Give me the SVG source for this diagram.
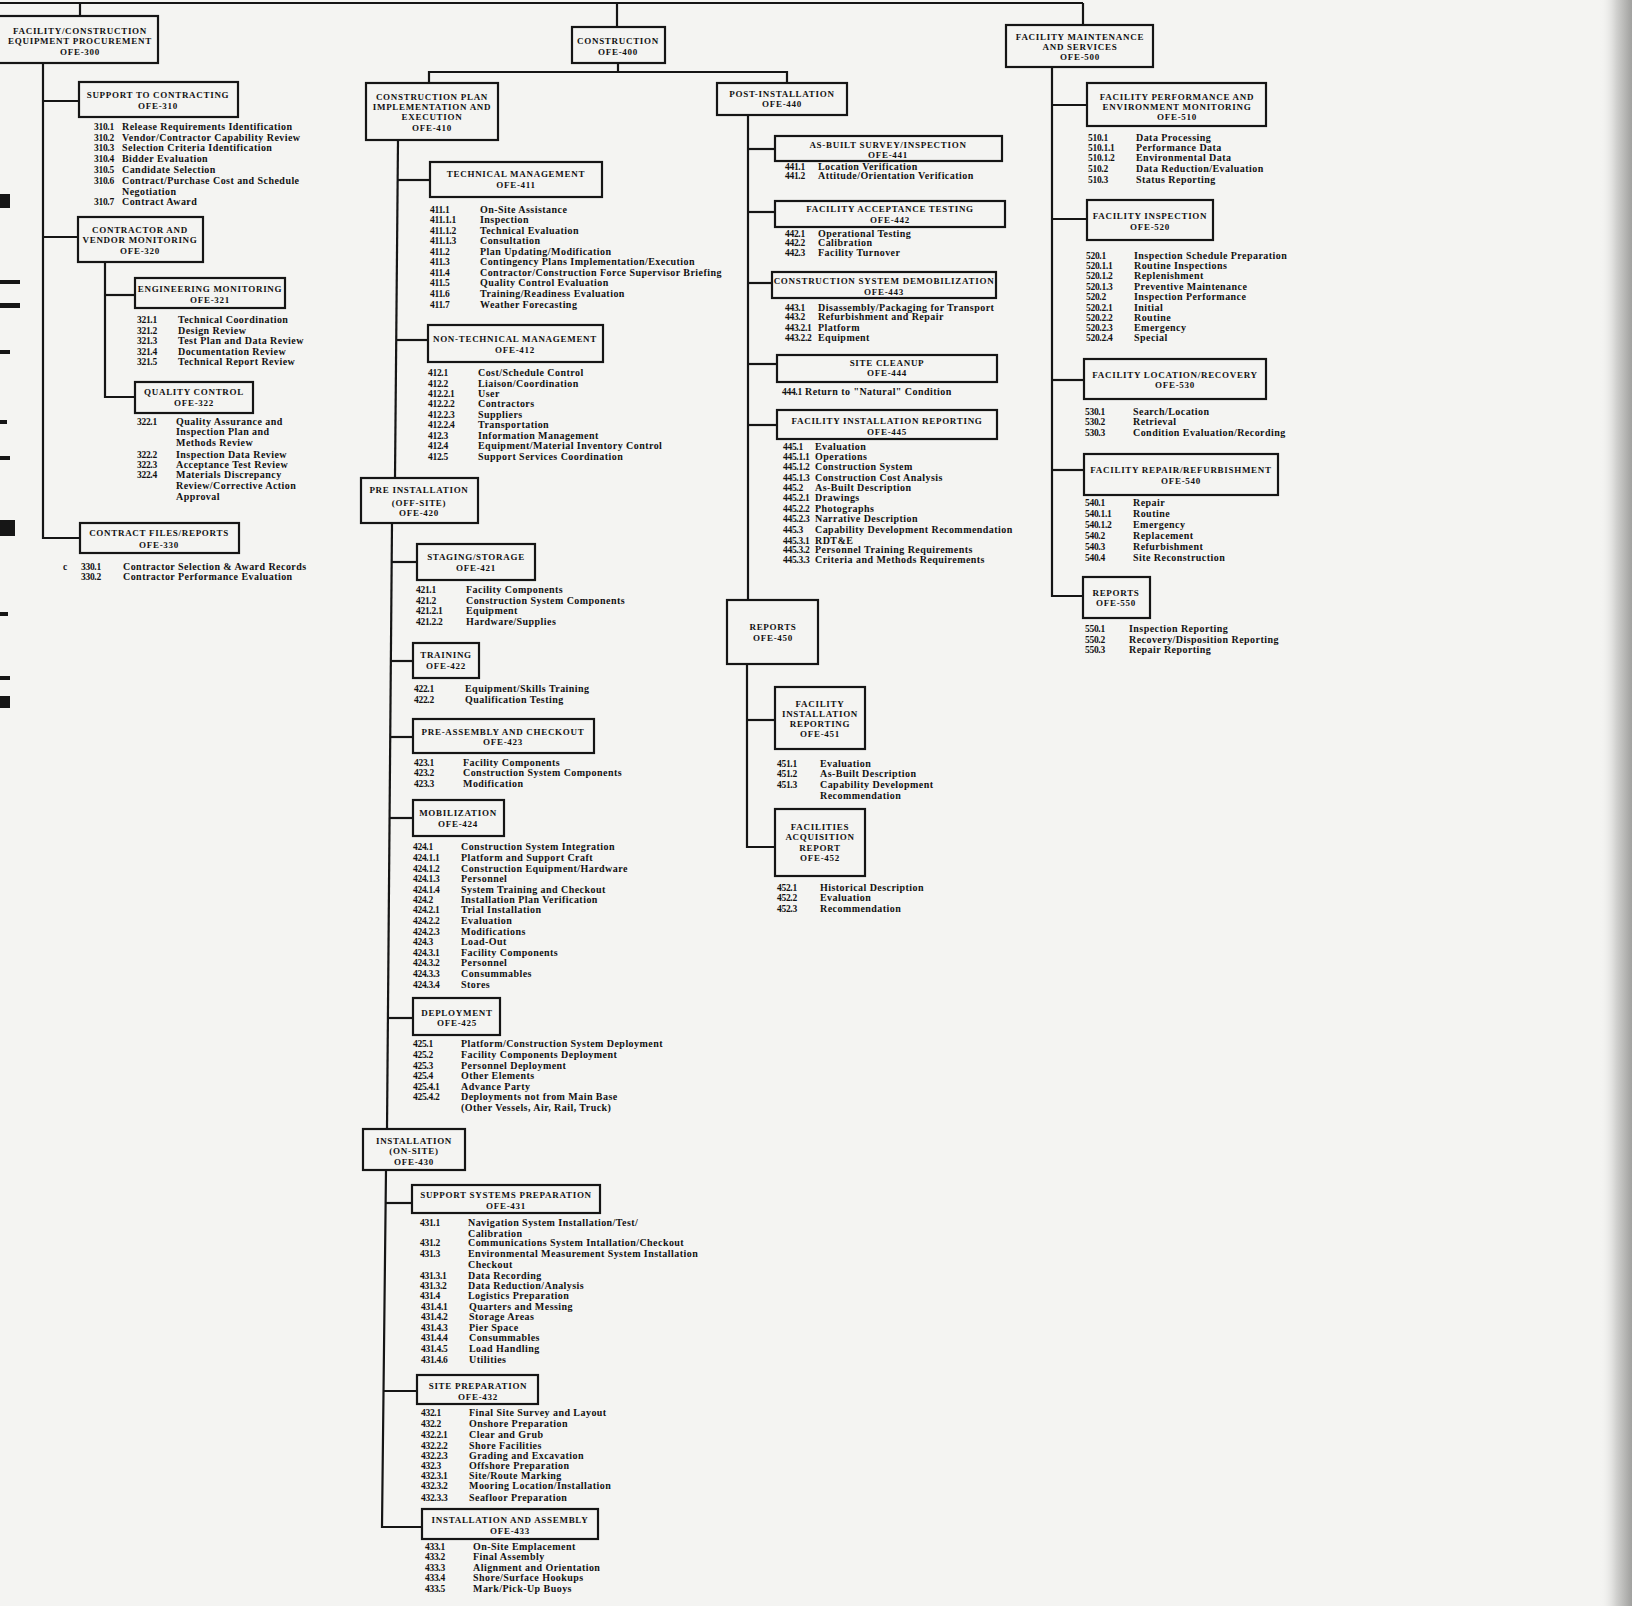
<svg xmlns="http://www.w3.org/2000/svg" width="1632" height="1606" viewBox="0 0 1632 1606">
<style>
.bx{fill:none;stroke:#151515;stroke-width:2.2}
.cn{fill:none;stroke:#151515;stroke-width:2.2}
.h{font-family:"Liberation Serif",serif;font-weight:bold;font-size:9px;letter-spacing:0.7px;text-anchor:middle;fill:#111}
.t{font-family:"Liberation Serif",serif;font-weight:bold;font-size:10px;letter-spacing:0.45px;fill:#111}
.n{font-size:9.5px;letter-spacing:-0.3px}
</style>
<defs>
<linearGradient id="edge" x1="0" x2="1" y1="0" y2="0">
<stop offset="0" stop-color="#f3f3f1" stop-opacity="0"/>
<stop offset="0.5" stop-color="#d2d2d0"/>
<stop offset="1" stop-color="#a0a09e"/>
</linearGradient>
</defs>
<rect x="0" y="0" width="1632" height="1606" fill="#f4f4f2"/>
<rect x="1600" y="0" width="32" height="1606" fill="url(#edge)"/>
<g id="edge-marks" fill="#161616">
<rect x="0" y="194" width="10" height="14"/>
<rect x="0" y="280" width="20" height="4"/>
<rect x="0" y="303" width="20" height="5"/>
<rect x="0" y="350" width="10" height="4"/>
<rect x="0" y="420" width="7" height="4"/>
<rect x="0" y="456" width="10" height="4"/>
<rect x="0" y="520" width="15" height="16"/>
<rect x="0" y="612" width="8" height="4"/>
<rect x="0" y="676" width="10" height="4"/>
<rect x="0" y="696" width="10" height="12"/>
</g>
<g id="connectors">
<path class="cn" d="M0,3 H1083"/>
<path class="cn" d="M80,3 V16"/>
<path class="cn" d="M617,3 V27"/>
<path class="cn" d="M1083,3 V25"/>
<path class="cn" d="M618,63 V72"/>
<path class="cn" d="M429,83 V72 H787 V83"/>
<path class="cn" d="M43,63 V538 H80"/>
<path class="cn" d="M43,101 H79"/>
<path class="cn" d="M43,237 H78"/>
<path class="cn" d="M105,262 V397 H135"/>
<path class="cn" d="M105,295 H135"/>
<path class="cn" d="M398,140 L395,478"/>
<path class="cn" d="M392,523 L387,1129"/>
<path class="cn" d="M386,1170 L382,1527 H422"/>
<path class="cn" d="M398,180 H430"/>
<path class="cn" d="M396,340 H428"/>
<path class="cn" d="M392,562 H417"/>
<path class="cn" d="M391,661 H413"/>
<path class="cn" d="M390,737 H413"/>
<path class="cn" d="M390,818 H413"/>
<path class="cn" d="M388,1018 H413"/>
<path class="cn" d="M386,1203 H412"/>
<path class="cn" d="M384,1391 H417"/>
<path class="cn" d="M748,115 V600"/>
<path class="cn" d="M747,664 V847 H775"/>
<path class="cn" d="M748,149 H775"/>
<path class="cn" d="M748,212 H775"/>
<path class="cn" d="M748,283 H773"/>
<path class="cn" d="M748,364 H777"/>
<path class="cn" d="M748,425 H777"/>
<path class="cn" d="M747,720 H775"/>
<path class="cn" d="M1052,67 V596 H1083"/>
<path class="cn" d="M1052,105 H1087"/>
<path class="cn" d="M1052,219 H1087"/>
<path class="cn" d="M1052,380 H1084"/>
<path class="cn" d="M1052,470 H1084"/>
</g>

<g id="ofe-300">
<rect class="bx" x="-4" y="16" width="162" height="47"/>
<text class="h" x="80" y="34">FACILITY/CONSTRUCTION</text>
<text class="h" x="80" y="44">EQUIPMENT PROCUREMENT</text>
<text class="h" x="80" y="55">OFE-300</text>
</g>
<g id="ofe-310">
<rect class="bx" x="79" y="82" width="159" height="35"/>
<text class="h" x="158" y="98">SUPPORT TO CONTRACTING</text>
<text class="h" x="158" y="109">OFE-310</text>
<g class="t">
<text class="n" x="94" y="130">310.1</text><text x="122" y="130">Release Requirements Identification</text>
<text class="n" x="94" y="141">310.2</text><text x="122" y="141">Vendor/Contractor Capability Review</text>
<text class="n" x="94" y="151">310.3</text><text x="122" y="151">Selection Criteria Identification</text>
<text class="n" x="94" y="162">310.4</text><text x="122" y="162">Bidder Evaluation</text>
<text class="n" x="94" y="173">310.5</text><text x="122" y="173">Candidate Selection</text>
<text class="n" x="94" y="184">310.6</text><text x="122" y="184">Contract/Purchase Cost and Schedule</text>
<text x="122" y="195">Negotiation</text>
<text class="n" x="94" y="205">310.7</text><text x="122" y="205">Contract Award</text>
</g>
</g>
<g id="ofe-320">
<rect class="bx" x="78" y="217" width="125" height="45"/>
<text class="h" x="140" y="233">CONTRACTOR AND</text>
<text class="h" x="140" y="243">VENDOR MONITORING</text>
<text class="h" x="140" y="254">OFE-320</text>
</g>
<g id="ofe-321">
<rect class="bx" x="135" y="278" width="150" height="30"/>
<text class="h" x="210" y="292">ENGINEERING MONITORING</text>
<text class="h" x="210" y="303">OFE-321</text>
<g class="t">
<text class="n" x="137" y="323">321.1</text><text x="178" y="323">Technical Coordination</text>
<text class="n" x="137" y="334">321.2</text><text x="178" y="334">Design Review</text>
<text class="n" x="137" y="344">321.3</text><text x="178" y="344">Test Plan and Data Review</text>
<text class="n" x="137" y="355">321.4</text><text x="178" y="355">Documentation Review</text>
<text class="n" x="137" y="365">321.5</text><text x="178" y="365">Technical Report Review</text>
</g>
</g>
<g id="ofe-322">
<rect class="bx" x="135" y="382" width="118" height="31"/>
<text class="h" x="194" y="395">QUALITY CONTROL</text>
<text class="h" x="194" y="406">OFE-322</text>
<g class="t">
<text class="n" x="137" y="425">322.1</text><text x="176" y="425">Quality Assurance and</text>
<text x="176" y="435">Inspection Plan and</text>
<text x="176" y="446">Methods Review</text>
<text class="n" x="137" y="458">322.2</text><text x="176" y="458">Inspection Data Review</text>
<text class="n" x="137" y="468">322.3</text><text x="176" y="468">Acceptance Test Review</text>
<text class="n" x="137" y="478">322.4</text><text x="176" y="478">Materials Discrepancy</text>
<text x="176" y="489">Review/Corrective Action</text>
<text x="176" y="500">Approval</text>
</g>
</g>
<g id="ofe-330">
<rect class="bx" x="80" y="523" width="159" height="30"/>
<text class="h" x="159" y="536">CONTRACT FILES/REPORTS</text>
<text class="h" x="159" y="548">OFE-330</text>
<g class="t">
<text class="n" x="63" y="570">c</text>
<text class="n" x="81" y="570">330.1</text><text x="123" y="570">Contractor Selection &amp; Award Records</text>
<text class="n" x="81" y="580">330.2</text><text x="123" y="580">Contractor Performance Evaluation</text>
</g>
</g>

<g id="ofe-400">
<rect class="bx" x="572" y="27" width="93" height="36"/>
<text class="h" x="618" y="44">CONSTRUCTION</text>
<text class="h" x="618" y="55">OFE-400</text>
</g>
<g id="ofe-410">
<rect class="bx" x="366" y="83" width="132" height="57"/>
<text class="h" x="432" y="100">CONSTRUCTION PLAN</text>
<text class="h" x="432" y="110">IMPLEMENTATION AND</text>
<text class="h" x="432" y="120">EXECUTION</text>
<text class="h" x="432" y="131">OFE-410</text>
</g>
<g id="ofe-411">
<rect class="bx" x="430" y="162" width="172" height="35"/>
<text class="h" x="516" y="177">TECHNICAL MANAGEMENT</text>
<text class="h" x="516" y="188">OFE-411</text>
<g class="t">
<text class="n" x="430" y="213">411.1</text><text x="480" y="213">On-Site Assistance</text>
<text class="n" x="430" y="223">411.1.1</text><text x="480" y="223">Inspection</text>
<text class="n" x="430" y="234">411.1.2</text><text x="480" y="234">Technical Evaluation</text>
<text class="n" x="430" y="244">411.1.3</text><text x="480" y="244">Consultation</text>
<text class="n" x="430" y="255">411.2</text><text x="480" y="255">Plan Updating/Modification</text>
<text class="n" x="430" y="265">411.3</text><text x="480" y="265">Contingency Plans Implementation/Execution</text>
<text class="n" x="430" y="276">411.4</text><text x="480" y="276">Contractor/Construction Force Supervisor Briefing</text>
<text class="n" x="430" y="286">411.5</text><text x="480" y="286">Quality Control Evaluation</text>
<text class="n" x="430" y="297">411.6</text><text x="480" y="297">Training/Readiness Evaluation</text>
<text class="n" x="430" y="308">411.7</text><text x="480" y="308">Weather Forecasting</text>
</g>
</g>
<g id="ofe-412">
<rect class="bx" x="428" y="325" width="175" height="37"/>
<text class="h" x="515" y="342">NON-TECHNICAL MANAGEMENT</text>
<text class="h" x="515" y="353">OFE-412</text>
<g class="t">
<text class="n" x="428" y="376">412.1</text><text x="478" y="376">Cost/Schedule Control</text>
<text class="n" x="428" y="387">412.2</text><text x="478" y="387">Liaison/Coordination</text>
<text class="n" x="428" y="397">412.2.1</text><text x="478" y="397">User</text>
<text class="n" x="428" y="407">412.2.2</text><text x="478" y="407">Contractors</text>
<text class="n" x="428" y="418">412.2.3</text><text x="478" y="418">Suppliers</text>
<text class="n" x="428" y="428">412.2.4</text><text x="478" y="428">Transportation</text>
<text class="n" x="428" y="439">412.3</text><text x="478" y="439">Information Management</text>
<text class="n" x="428" y="449">412.4</text><text x="478" y="449">Equipment/Material Inventory Control</text>
<text class="n" x="428" y="460">412.5</text><text x="478" y="460">Support Services Coordination</text>
</g>
</g>
<g id="ofe-420">
<rect class="bx" x="361" y="478" width="117" height="45"/>
<text class="h" x="419" y="493">PRE INSTALLATION</text>
<text class="h" x="419" y="506">(OFF-SITE)</text>
<text class="h" x="419" y="516">OFE-420</text>
</g>
<g id="ofe-421">
<rect class="bx" x="417" y="544" width="118" height="36"/>
<text class="h" x="476" y="560">STAGING/STORAGE</text>
<text class="h" x="476" y="571">OFE-421</text>
<g class="t">
<text class="n" x="416" y="593">421.1</text><text x="466" y="593">Facility Components</text>
<text class="n" x="416" y="604">421.2</text><text x="466" y="604">Construction System Components</text>
<text class="n" x="416" y="614">421.2.1</text><text x="466" y="614">Equipment</text>
<text class="n" x="416" y="625">421.2.2</text><text x="466" y="625">Hardware/Supplies</text>
</g>
</g>
<g id="ofe-422">
<rect class="bx" x="413" y="643" width="66" height="35"/>
<text class="h" x="446" y="658">TRAINING</text>
<text class="h" x="446" y="669">OFE-422</text>
<g class="t">
<text class="n" x="414" y="692">422.1</text><text x="465" y="692">Equipment/Skills Training</text>
<text class="n" x="414" y="703">422.2</text><text x="465" y="703">Qualification Testing</text>
</g>
</g>
<g id="ofe-423">
<rect class="bx" x="413" y="719" width="181" height="34"/>
<text class="h" x="503" y="735">PRE-ASSEMBLY AND CHECKOUT</text>
<text class="h" x="503" y="745">OFE-423</text>
<g class="t">
<text class="n" x="414" y="766">423.1</text><text x="463" y="766">Facility Components</text>
<text class="n" x="414" y="776">423.2</text><text x="463" y="776">Construction System Components</text>
<text class="n" x="414" y="787">423.3</text><text x="463" y="787">Modification</text>
</g>
</g>
<g id="ofe-424">
<rect class="bx" x="413" y="800" width="91" height="36"/>
<text class="h" x="458" y="816">MOBILIZATION</text>
<text class="h" x="458" y="827">OFE-424</text>
<g class="t">
<text class="n" x="413" y="850">424.1</text><text x="461" y="850">Construction System Integration</text>
<text class="n" x="413" y="861">424.1.1</text><text x="461" y="861">Platform and Support Craft</text>
<text class="n" x="413" y="872">424.1.2</text><text x="461" y="872">Construction Equipment/Hardware</text>
<text class="n" x="413" y="882">424.1.3</text><text x="461" y="882">Personnel</text>
<text class="n" x="413" y="893">424.1.4</text><text x="461" y="893">System Training and Checkout</text>
<text class="n" x="413" y="903">424.2</text><text x="461" y="903">Installation Plan Verification</text>
<text class="n" x="413" y="913">424.2.1</text><text x="461" y="913">Trial Installation</text>
<text class="n" x="413" y="924">424.2.2</text><text x="461" y="924">Evaluation</text>
<text class="n" x="413" y="935">424.2.3</text><text x="461" y="935">Modifications</text>
<text class="n" x="413" y="945">424.3</text><text x="461" y="945">Load-Out</text>
<text class="n" x="413" y="956">424.3.1</text><text x="461" y="956">Facility Components</text>
<text class="n" x="413" y="966">424.3.2</text><text x="461" y="966">Personnel</text>
<text class="n" x="413" y="977">424.3.3</text><text x="461" y="977">Consummables</text>
<text class="n" x="413" y="988">424.3.4</text><text x="461" y="988">Stores</text>
</g>
</g>
<g id="ofe-425">
<rect class="bx" x="413" y="998" width="87" height="37"/>
<text class="h" x="457" y="1016">DEPLOYMENT</text>
<text class="h" x="457" y="1026">OFE-425</text>
<g class="t">
<text class="n" x="413" y="1047">425.1</text><text x="461" y="1047">Platform/Construction System Deployment</text>
<text class="n" x="413" y="1058">425.2</text><text x="461" y="1058">Facility Components Deployment</text>
<text class="n" x="413" y="1069">425.3</text><text x="461" y="1069">Personnel Deployment</text>
<text class="n" x="413" y="1079">425.4</text><text x="461" y="1079">Other Elements</text>
<text class="n" x="413" y="1090">425.4.1</text><text x="461" y="1090">Advance Party</text>
<text class="n" x="413" y="1100">425.4.2</text><text x="461" y="1100">Deployments not from Main Base</text>
<text x="461" y="1111">(Other Vessels, Air, Rail, Truck)</text>
</g>
</g>
<g id="ofe-430">
<rect class="bx" x="363" y="1129" width="102" height="41"/>
<text class="h" x="414" y="1144">INSTALLATION</text>
<text class="h" x="414" y="1154">(ON-SITE)</text>
<text class="h" x="414" y="1165">OFE-430</text>
</g>
<g id="ofe-431">
<rect class="bx" x="412" y="1185" width="188" height="28"/>
<text class="h" x="506" y="1198">SUPPORT SYSTEMS PREPARATION</text>
<text class="h" x="506" y="1209">OFE-431</text>
<g class="t">
<text class="n" x="420" y="1226">431.1</text><text x="468" y="1226">Navigation System Installation/Test/</text>
<text x="468" y="1237">Calibration</text>
<text class="n" x="420" y="1246">431.2</text><text x="468" y="1246">Communications System Intallation/Checkout</text>
<text class="n" x="420" y="1257">431.3</text><text x="468" y="1257">Environmental Measurement System Installation</text>
<text x="468" y="1268">Checkout</text>
<text class="n" x="420" y="1279">431.3.1</text><text x="468" y="1279">Data Recording</text>
<text class="n" x="420" y="1289">431.3.2</text><text x="468" y="1289">Data Reduction/Analysis</text>
<text class="n" x="420" y="1299">431.4</text><text x="468" y="1299">Logistics Preparation</text>
<text class="n" x="421" y="1310">431.4.1</text><text x="469" y="1310">Quarters and Messing</text>
<text class="n" x="421" y="1320">431.4.2</text><text x="469" y="1320">Storage Areas</text>
<text class="n" x="421" y="1331">431.4.3</text><text x="469" y="1331">Pier Space</text>
<text class="n" x="421" y="1341">431.4.4</text><text x="469" y="1341">Consummables</text>
<text class="n" x="421" y="1352">431.4.5</text><text x="469" y="1352">Load Handling</text>
<text class="n" x="421" y="1363">431.4.6</text><text x="469" y="1363">Utilities</text>
</g>
</g>
<g id="ofe-432">
<rect class="bx" x="417" y="1375" width="121" height="29"/>
<text class="h" x="478" y="1389">SITE PREPARATION</text>
<text class="h" x="478" y="1400">OFE-432</text>
<g class="t">
<text class="n" x="421" y="1416">432.1</text><text x="469" y="1416">Final Site Survey and Layout</text>
<text class="n" x="421" y="1427">432.2</text><text x="469" y="1427">Onshore Preparation</text>
<text class="n" x="421" y="1438">432.2.1</text><text x="469" y="1438">Clear and Grub</text>
<text class="n" x="421" y="1449">432.2.2</text><text x="469" y="1449">Shore Facilities</text>
<text class="n" x="421" y="1459">432.2.3</text><text x="469" y="1459">Grading and Excavation</text>
<text class="n" x="421" y="1469">432.3</text><text x="469" y="1469">Offshore Preparation</text>
<text class="n" x="421" y="1479">432.3.1</text><text x="469" y="1479">Site/Route Marking</text>
<text class="n" x="421" y="1489">432.3.2</text><text x="469" y="1489">Mooring Location/Installation</text>
<text class="n" x="421" y="1501">432.3.3</text><text x="469" y="1501">Seafloor Preparation</text>
</g>
</g>
<g id="ofe-433">
<rect class="bx" x="422" y="1509" width="176" height="30"/>
<text class="h" x="510" y="1523">INSTALLATION AND ASSEMBLY</text>
<text class="h" x="510" y="1534">OFE-433</text>
<g class="t">
<text class="n" x="425" y="1550">433.1</text><text x="473" y="1550">On-Site Emplacement</text>
<text class="n" x="425" y="1560">433.2</text><text x="473" y="1560">Final Assembly</text>
<text class="n" x="425" y="1571">433.3</text><text x="473" y="1571">Alignment and Orientation</text>
<text class="n" x="425" y="1581">433.4</text><text x="473" y="1581">Shore/Surface Hookups</text>
<text class="n" x="425" y="1592">433.5</text><text x="473" y="1592">Mark/Pick-Up Buoys</text>
</g>
</g>

<g id="ofe-440">
<rect class="bx" x="717" y="83" width="130" height="32"/>
<text class="h" x="782" y="97">POST-INSTALLATION</text>
<text class="h" x="782" y="107">OFE-440</text>
</g>
<g id="ofe-441">
<rect class="bx" x="775" y="136" width="227" height="25"/>
<text class="h" x="888" y="148">AS-BUILT SURVEY/INSPECTION</text>
<text class="h" x="888" y="158">OFE-441</text>
<g class="t">
<text class="n" x="785" y="170">441.1</text><text x="818" y="170">Location Verification</text>
<text class="n" x="785" y="179">441.2</text><text x="818" y="179">Attitude/Orientation Verification</text>
</g>
</g>
<g id="ofe-442">
<rect class="bx" x="775" y="201" width="230" height="26"/>
<text class="h" x="890" y="212">FACILITY ACCEPTANCE TESTING</text>
<text class="h" x="890" y="223">OFE-442</text>
<g class="t">
<text class="n" x="785" y="237">442.1</text><text x="818" y="237">Operational Testing</text>
<text class="n" x="785" y="246">442.2</text><text x="818" y="246">Calibration</text>
<text class="n" x="785" y="256">442.3</text><text x="818" y="256">Facility Turnover</text>
</g>
</g>
<g id="ofe-443">
<rect class="bx" x="772" y="272" width="224" height="26"/>
<text class="h" x="884" y="284">CONSTRUCTION SYSTEM DEMOBILIZATION</text>
<text class="h" x="884" y="295">OFE-443</text>
<g class="t">
<text class="n" x="785" y="311">443.1</text><text x="818" y="311">Disassembly/Packaging for Transport</text>
<text class="n" x="785" y="320">443.2</text><text x="818" y="320">Refurbishment and Repair</text>
<text class="n" x="785" y="331">443.2.1</text><text x="818" y="331">Platform</text>
<text class="n" x="785" y="341">443.2.2</text><text x="818" y="341">Equipment</text>
</g>
</g>
<g id="ofe-444">
<rect class="bx" x="777" y="355" width="220" height="27"/>
<text class="h" x="887" y="366">SITE CLEANUP</text>
<text class="h" x="887" y="376">OFE-444</text>
<g class="t">
<text class="n" x="782" y="395">444.1</text><text x="805" y="395">Return to "Natural" Condition</text>
</g>
</g>
<g id="ofe-445">
<rect class="bx" x="777" y="410" width="220" height="29"/>
<text class="h" x="887" y="424">FACILITY INSTALLATION REPORTING</text>
<text class="h" x="887" y="435">OFE-445</text>
<g class="t">
<text class="n" x="783" y="450">445.1</text><text x="815" y="450">Evaluation</text>
<text class="n" x="783" y="460">445.1.1</text><text x="815" y="460">Operations</text>
<text class="n" x="783" y="470">445.1.2</text><text x="815" y="470">Construction System</text>
<text class="n" x="783" y="481">445.1.3</text><text x="815" y="481">Construction Cost Analysis</text>
<text class="n" x="783" y="491">445.2</text><text x="815" y="491">As-Built Description</text>
<text class="n" x="783" y="501">445.2.1</text><text x="815" y="501">Drawings</text>
<text class="n" x="783" y="512">445.2.2</text><text x="815" y="512">Photographs</text>
<text class="n" x="783" y="522">445.2.3</text><text x="815" y="522">Narrative Description</text>
<text class="n" x="783" y="533">445.3</text><text x="815" y="533">Capability Development Recommendation</text>
<text class="n" x="783" y="544">445.3.1</text><text x="815" y="544">RDT&amp;E</text>
<text class="n" x="783" y="553">445.3.2</text><text x="815" y="553">Personnel Training Requirements</text>
<text class="n" x="783" y="563">445.3.3</text><text x="815" y="563">Criteria and Methods Requirements</text>
</g>
</g>
<g id="ofe-450">
<rect class="bx" x="727" y="600" width="91" height="64"/>
<text class="h" x="773" y="630">REPORTS</text>
<text class="h" x="773" y="641">OFE-450</text>
</g>
<g id="ofe-451">
<rect class="bx" x="775" y="687" width="90" height="62"/>
<text class="h" x="820" y="707">FACILITY</text>
<text class="h" x="820" y="717">INSTALLATION</text>
<text class="h" x="820" y="727">REPORTING</text>
<text class="h" x="820" y="737">OFE-451</text>
<g class="t">
<text class="n" x="777" y="767">451.1</text><text x="820" y="767">Evaluation</text>
<text class="n" x="777" y="777">451.2</text><text x="820" y="777">As-Built Description</text>
<text class="n" x="777" y="788">451.3</text><text x="820" y="788">Capability Development</text>
<text x="820" y="799">Recommendation</text>
</g>
</g>
<g id="ofe-452">
<rect class="bx" x="775" y="809" width="90" height="67"/>
<text class="h" x="820" y="830">FACILITIES</text>
<text class="h" x="820" y="840">ACQUISITION</text>
<text class="h" x="820" y="851">REPORT</text>
<text class="h" x="820" y="861">OFE-452</text>
<g class="t">
<text class="n" x="777" y="891">452.1</text><text x="820" y="891">Historical Description</text>
<text class="n" x="777" y="901">452.2</text><text x="820" y="901">Evaluation</text>
<text class="n" x="777" y="912">452.3</text><text x="820" y="912">Recommendation</text>
</g>
</g>

<g id="ofe-500">
<rect class="bx" x="1006" y="25" width="147" height="42"/>
<text class="h" x="1080" y="40">FACILITY MAINTENANCE</text>
<text class="h" x="1080" y="50">AND SERVICES</text>
<text class="h" x="1080" y="60">OFE-500</text>
</g>
<g id="ofe-510">
<rect class="bx" x="1087" y="83" width="179" height="43"/>
<text class="h" x="1177" y="100">FACILITY PERFORMANCE AND</text>
<text class="h" x="1177" y="110">ENVIRONMENT MONITORING</text>
<text class="h" x="1177" y="120">OFE-510</text>
<g class="t">
<text class="n" x="1088" y="141">510.1</text><text x="1136" y="141">Data Processing</text>
<text class="n" x="1088" y="151">510.1.1</text><text x="1136" y="151">Performance Data</text>
<text class="n" x="1088" y="161">510.1.2</text><text x="1136" y="161">Environmental Data</text>
<text class="n" x="1088" y="172">510.2</text><text x="1136" y="172">Data Reduction/Evaluation</text>
<text class="n" x="1088" y="183">510.3</text><text x="1136" y="183">Status Reporting</text>
</g>
</g>
<g id="ofe-520">
<rect class="bx" x="1087" y="200" width="126" height="40"/>
<text class="h" x="1150" y="219">FACILITY INSPECTION</text>
<text class="h" x="1150" y="230">OFE-520</text>
<g class="t">
<text class="n" x="1086" y="259">520.1</text><text x="1134" y="259">Inspection Schedule Preparation</text>
<text class="n" x="1086" y="269">520.1.1</text><text x="1134" y="269">Routine Inspections</text>
<text class="n" x="1086" y="279">520.1.2</text><text x="1134" y="279">Replenishment</text>
<text class="n" x="1086" y="290">520.1.3</text><text x="1134" y="290">Preventive Maintenance</text>
<text class="n" x="1086" y="300">520.2</text><text x="1134" y="300">Inspection Performance</text>
<text class="n" x="1086" y="311">520.2.1</text><text x="1134" y="311">Initial</text>
<text class="n" x="1086" y="321">520.2.2</text><text x="1134" y="321">Routine</text>
<text class="n" x="1086" y="331">520.2.3</text><text x="1134" y="331">Emergency</text>
<text class="n" x="1086" y="341">520.2.4</text><text x="1134" y="341">Special</text>
</g>
</g>
<g id="ofe-530">
<rect class="bx" x="1084" y="359" width="182" height="40"/>
<text class="h" x="1175" y="378">FACILITY LOCATION/RECOVERY</text>
<text class="h" x="1175" y="388">OFE-530</text>
<g class="t">
<text class="n" x="1085" y="415">530.1</text><text x="1133" y="415">Search/Location</text>
<text class="n" x="1085" y="425">530.2</text><text x="1133" y="425">Retrieval</text>
<text class="n" x="1085" y="436">530.3</text><text x="1133" y="436">Condition Evaluation/Recording</text>
</g>
</g>
<g id="ofe-540">
<rect class="bx" x="1084" y="454" width="194" height="41"/>
<text class="h" x="1181" y="473">FACILITY REPAIR/REFURBISHMENT</text>
<text class="h" x="1181" y="484">OFE-540</text>
<g class="t">
<text class="n" x="1085" y="506">540.1</text><text x="1133" y="506">Repair</text>
<text class="n" x="1085" y="517">540.1.1</text><text x="1133" y="517">Routine</text>
<text class="n" x="1085" y="528">540.1.2</text><text x="1133" y="528">Emergency</text>
<text class="n" x="1085" y="539">540.2</text><text x="1133" y="539">Replacement</text>
<text class="n" x="1085" y="550">540.3</text><text x="1133" y="550">Refurbishment</text>
<text class="n" x="1085" y="561">540.4</text><text x="1133" y="561">Site Reconstruction</text>
</g>
</g>
<g id="ofe-550">
<rect class="bx" x="1083" y="577" width="67" height="41"/>
<text class="h" x="1116" y="596">REPORTS</text>
<text class="h" x="1116" y="606">OFE-550</text>
<g class="t">
<text class="n" x="1085" y="632">550.1</text><text x="1129" y="632">Inspection Reporting</text>
<text class="n" x="1085" y="643">550.2</text><text x="1129" y="643">Recovery/Disposition Reporting</text>
<text class="n" x="1085" y="653">550.3</text><text x="1129" y="653">Repair Reporting</text>
</g>
</g>
</svg>
